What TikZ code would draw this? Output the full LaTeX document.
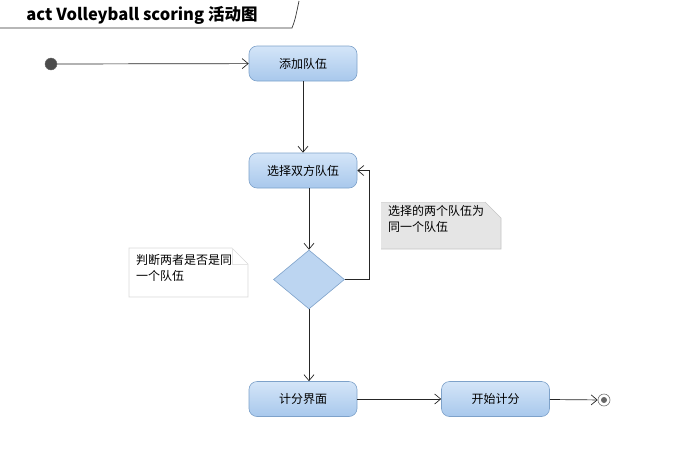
\documentclass[tikz,border=0pt]{standalone}
\usepackage{fontspec}
\setmainfont{Noto Sans CJK SC}
\newfontfamily\cjk{Noto Sans CJK SC}
\usetikzlibrary{arrows.meta,shapes.geometric}
\definecolor{boxtop}{HTML}{D4E5F8}
\definecolor{boxbot}{HTML}{A8C8EC}
\definecolor{boxline}{HTML}{7EA2CA}
\definecolor{decfill}{HTML}{BCD5F1}
\definecolor{notefill}{HTML}{E5E5E5}
\definecolor{noteline}{HTML}{C4C4C4}
\tikzset{
  actbox/.style={draw=boxline, top color=boxtop, bottom color=boxbot, rounded corners=8pt,
    minimum width=108pt, minimum height=35pt, inner sep=0pt, font=\cjk\fontsize{12}{14}\selectfont, line width=0.6pt},
  arr/.style={draw=black!85, line width=0.7pt, -{Straight Barb[length=6pt,width=10pt,line width=0.7pt]}},
  notetext/.style={font=\cjk\fontsize{12}{16}\selectfont, align=left, inner sep=0pt, anchor=north west},
}
\begin{document}
\begin{tikzpicture}[x=1pt,y=-1pt]
\useasboundingbox (0,0) rectangle (686,464);
% title tab
\draw[black!80, line width=0.7pt] (0,28) -- (292,28) .. controls (295,20) .. (299,1);
\node (title) at (142,15) {\fontsize{16.5}{18}\selectfont\bfseries act Volleyball scoring 活动图};
% initial
\node[circle, fill=black!70, draw=black!60, minimum size=12pt, inner sep=0pt] (init) at (51,64) {};
% actions
\node[actbox] (a1) at (303,63.5) {添加队伍};
\node[actbox] (a2) at (303,170.5) {选择双方队伍};
\node[diamond, draw=boxline, fill=decfill, minimum width=71pt, minimum height=59pt, inner sep=0pt, line width=0.6pt] (dec) at (309,279.5) {};
\node[actbox] (a3) at (303,399) {计分界面};
\node[actbox] (a4) at (495.5,399) {开始计分};
% final
\node[circle, draw=black!55, fill=white, minimum size=12pt, inner sep=0pt, line width=0.6pt] (fin) at (604,400) {};
\node[circle, fill=black!60, minimum size=6pt, inner sep=0pt] (findot) at (fin) {};
% notes
\fill[notefill] (381,202) -- (485,202) -- (501,218) -- (501,249) -- (381,249) -- cycle;
\draw[noteline, line width=0.6pt] (485,202) -- (501,218) -- (501,249) -- (381,249);
\draw[white!85!black, line width=0.5pt] (381,202) -- (485,202);
\node[notetext] (n1) at (388,205) {选择的两个队伍为\\同一个队伍};
\fill[white] (129,248) -- (232,248) -- (248,264) -- (248,297) -- (129,297) -- cycle;
\draw[black!15, line width=0.6pt] (129,248) -- (232,248) -- (248,264) -- (248,297) -- (129,297) -- cycle;
\draw[black!10, line width=0.5pt] (232,248) -- (232,264) -- (248,264);
\node[notetext] (n2) at (136,254) {判断两者是否是同\\一个队伍};
% connectors
\draw[arr] (init) -- (a1);
\draw[arr] (a1) -- (a2);
\draw[arr] (dec.north |- a2.south) -- (dec.north);
\draw[arr] (dec.east) -- ++(25,0) |- (a2.east);
\draw[arr] (dec.south) -- (dec.south |- a3.north);
\draw[arr] (a3) -- (a4);
\draw[arr] (a4) -- (fin);
\end{tikzpicture}
\end{document}
